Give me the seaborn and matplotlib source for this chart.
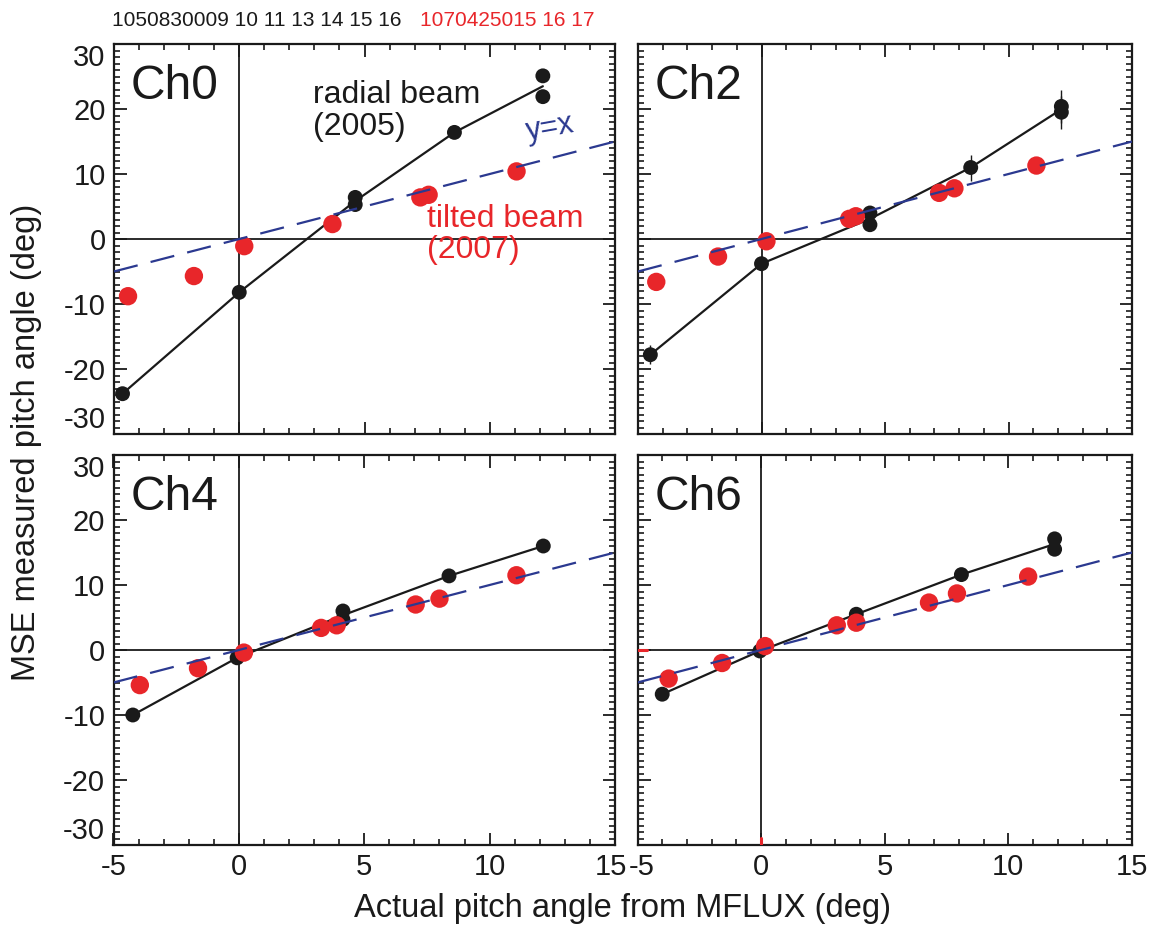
import numpy as np
import pandas as pd
import matplotlib
matplotlib.use("Agg")
import matplotlib.pyplot as plt
import matplotlib.transforms as mtransforms
import seaborn as sns
from matplotlib.ticker import MultipleLocator

# ---------------- data ----------------
channels = ["Ch0", "Ch2", "Ch4", "Ch6"]

# radial beam (2005) - black
ch0_rad_x = [-4.66, 0.0, 4.63, 4.63, 8.59, 12.12, 12.12]
ch0_rad_y = [-23.8, -8.2, 6.4, 5.3, 16.4, 25.1, 21.9]
ch2_rad_x = [-4.50, 0.0, 4.39, 4.39, 8.47, 12.14, 12.14]
ch2_rad_y = [-17.8, -3.8, 4.0, 2.2, 11.0, 20.4, 19.5]
ch2_rad_err = [1.5, 0.4, 0.4, 0.4, 2.0, 2.5, 2.5]
ch4_rad_x = [-4.23, -0.07, 4.15, 4.15, 8.38, 12.14]
ch4_rad_y = [-10.0, -1.2, 6.0, 4.7, 11.4, 16.0]
ch6_rad_x = [-4.00, -0.05, 3.85, 8.10, 11.87, 11.87]
ch6_rad_y = [-6.8, -0.15, 5.5, 11.6, 17.1, 15.5]

# tilted beam (2007) - red
ch0_tilt_x = [-4.44, -1.81, 0.20, 3.72, 7.23, 7.56, 11.07]
ch0_tilt_y = [-8.8, -5.7, -1.1, 2.3, 6.4, 6.8, 10.4]
ch2_tilt_x = [-4.26, -1.76, 0.20, 3.55, 3.82, 7.19, 7.81, 11.13]
ch2_tilt_y = [-6.6, -2.7, -0.35, 3.1, 3.5, 7.1, 7.8, 11.3]
ch4_tilt_x = [-3.95, -1.63, 0.20, 3.28, 3.90, 7.05, 8.00, 11.07]
ch4_tilt_y = [-5.4, -2.8, -0.4, 3.4, 3.8, 7.0, 7.9, 11.5]
ch6_tilt_x = [-3.74, -1.58, 0.16, 3.06, 3.85, 6.79, 7.92, 10.80]
ch6_tilt_y = [-4.4, -2.0, 0.6, 3.8, 4.2, 7.3, 8.7, 11.3]

identity_x = [-5, 15]

x_ticks = [-5, 0, 5, 10, 15]
y_ticks = [-30, -20, -10, 0, 10, 20, 30]

shots_2005 = "1050830009 10 11 13 14 15 16"
shots_2007 = "1070425015 16 17"

rad_sets = {
    "Ch0": (ch0_rad_x, ch0_rad_y, None),
    "Ch2": (ch2_rad_x, ch2_rad_y, ch2_rad_err),
    "Ch4": (ch4_rad_x, ch4_rad_y, None),
    "Ch6": (ch6_rad_x, ch6_rad_y, None),
}
tilt_sets = {
    "Ch0": (ch0_tilt_x, ch0_tilt_y),
    "Ch2": (ch2_tilt_x, ch2_tilt_y),
    "Ch4": (ch4_tilt_x, ch4_tilt_y),
    "Ch6": (ch6_tilt_x, ch6_tilt_y),
}

# ---------------- style ----------------
sns.set_theme(style="ticks")
plt.rcParams["font.family"] = ["Liberation Sans", "DejaVu Sans"]
plt.rcParams["axes.linewidth"] = 1.5

BLACK = "#1a1a1a"
RED = "#e8262a"
BLUE = "#2b3990"

W, H = 1162, 931
fig = plt.figure(figsize=(W / 100, H / 100), dpi=100)

# panel boxes in pixels: left, right, top, bottom
boxes = {
    "Ch0": (114, 615, 44, 434),
    "Ch2": (638, 1132, 44, 434),
    "Ch4": (113.5, 615, 455, 845),
    "Ch6": (637.5, 1132, 455, 845),
}

for ch in channels:
    l, r, t, b = boxes[ch]
    ax = fig.add_axes([l / W, 1 - b / H, (r - l) / W, (b - t) / H])
    ax.set_xlim(-5, 15)
    ax.set_ylim(-30, 30)

    ax.axhline(0, color=BLACK, lw=1.3, zorder=1)
    ax.axvline(0, color=BLACK, lw=1.3, zorder=1)

    rx, ry, rerr = rad_sets[ch]
    df_r = pd.DataFrame({"x": rx, "y": ry})
    sns.lineplot(data=df_r, x="x", y="y", estimator="mean", errorbar=None,
                 color=BLACK, lw=1.6, ax=ax, zorder=2)
    if rerr is not None:
        ax.errorbar(rx, ry, yerr=rerr, fmt="none", ecolor=BLACK, elinewidth=1.0,
                    capsize=0, zorder=2)
    sns.scatterplot(data=df_r, x="x", y="y", color=BLACK, s=115,
                    edgecolor="none", ax=ax, zorder=3)

    tx, ty = tilt_sets[ch]
    df_t = pd.DataFrame({"x": tx, "y": ty})
    sns.scatterplot(data=df_t, x="x", y="y", color=RED, s=175,
                    edgecolor="none", ax=ax, zorder=4)

    sns.lineplot(x=identity_x, y=identity_x, color=BLUE, lw=1.6, ax=ax,
                 zorder=5, dashes=False)
    ax.lines[-1].set_dashes((11, 6))

    ax.text(0.034, 0.86, ch, transform=ax.transAxes, fontsize=34.5,
            color=BLACK, ha="left", va="baseline")

    ax.set_xticks(x_ticks, labels=[str(v) for v in x_ticks])
    ax.set_yticks(y_ticks, labels=[str(v) for v in y_ticks])
    ax.xaxis.set_minor_locator(MultipleLocator(1))
    ax.yaxis.set_minor_locator(MultipleLocator(1))
    ax.tick_params(which="major", direction="in", length=9, width=1.3,
                   top=True, right=True, labelsize=21, colors=BLACK, pad=6)
    ax.tick_params(which="minor", direction="in", length=4.5, width=1.2,
                   top=True, right=True, colors=BLACK)
    ylabs = ax.get_yticklabels()
    ylabs[0].set_va("bottom")
    ylabs[-1].set_va("top")
    if ch == "Ch4":
        xl = ax.get_xticklabels()
        xl[-1].set_transform(xl[-1].get_transform() +
                             mtransforms.ScaledTranslation(-4 / 100, 0, fig.dpi_scale_trans))
    if ch == "Ch6":
        xl = ax.get_xticklabels()
        xl[0].set_transform(xl[0].get_transform() +
                            mtransforms.ScaledTranslation(4 / 100, 0, fig.dpi_scale_trans))
    ax.set_xlabel("")
    ax.set_ylabel("")
    for s in ax.spines.values():
        s.set_color(BLACK)
        s.set_linewidth(1.6)

    if ch in ("Ch0", "Ch2"):
        ax.tick_params(labelbottom=False)
    if ch in ("Ch2", "Ch6"):
        ax.tick_params(labelleft=False)

    if ch == "Ch0":
        ax.text(2.95, 24.4, "radial beam\n(2005)", fontsize=23, color=BLACK,
                ha="left", va="top", linespacing=1.05)
        ax.text(7.5, 5.4, "tilted beam\n(2007)", fontsize=23, color=RED,
                ha="left", va="top", linespacing=1.05)
        ax.text(11.35, 15.2, "y=x", fontsize=22, color=BLUE, ha="left",
                va="baseline", rotation=10)
    if ch == "Ch6":
        ax.axhline(0, xmin=0, xmax=0.02, color=RED, lw=2.2, zorder=6)
        ax.axvline(0, ymin=0, ymax=0.018, color=RED, lw=2.2, zorder=6)

fig.text(112 / W, 1 - 21 / H, shots_2005, fontsize=15, color=BLACK,
         ha="left", va="center")
fig.text(420 / W, 1 - 21 / H, shots_2007, fontsize=15, color=RED,
         ha="left", va="center")

fig.text(622 / W, 1 - 908 / H, "Actual pitch angle from MFLUX (deg)",
         fontsize=23.5, color=BLACK, ha="center", va="center")
fig.text(27 / W, 1 - 442 / H, "MSE measured pitch angle (deg)",
         fontsize=23.5, color=BLACK, ha="center", va="center", rotation=90)

fig.savefig("out.png", dpi=100, facecolor="white")
